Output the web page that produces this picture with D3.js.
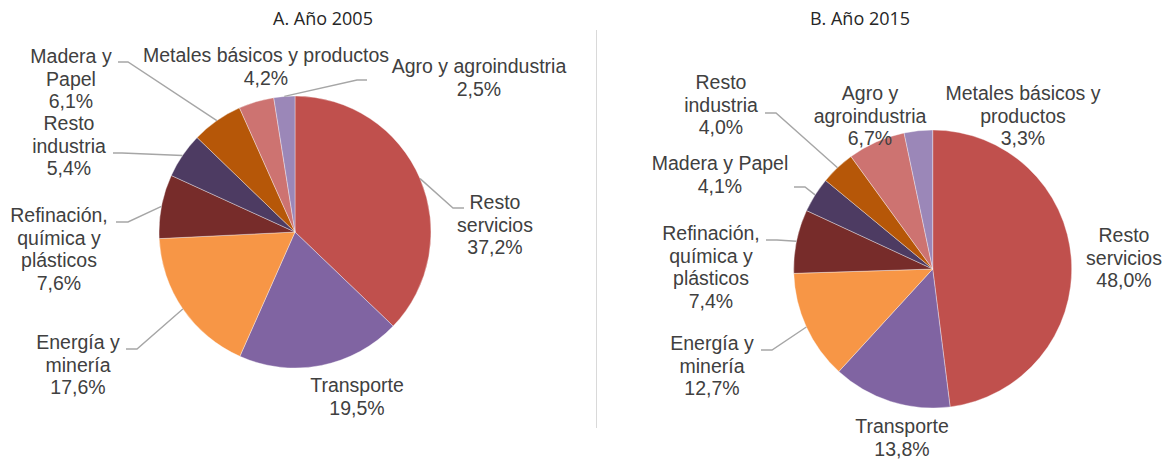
<!DOCTYPE html>
<html>
<head>
<meta charset="utf-8">
<script src="https://cdn.jsdelivr.net/npm/d3@7"></script>
<style>
  html, body { margin: 0; padding: 0; background: #fff; }
  svg { display: block; }
</style>
</head>
<body>
<svg id="chart" width="1172" height="462"></svg>
<script>
// ---------- DATA ----------
const titles = ["A. Año 2005", "B. Año 2015"];

const categories2005 = ["Resto servicios", "Transporte", "Energía y minería", "Refinación, química y plásticos",
  "Resto industria", "Madera y Papel", "Metales básicos y productos", "Agro y agroindustria"];
const values2005 = [37.2, 19.5, 17.6, 7.6, 5.4, 6.1, 4.2, 2.5];

const categories2015 = ["Resto servicios", "Transporte", "Energía y minería", "Refinación, química y plásticos",
  "Madera y Papel", "Resto industria", "Agro y agroindustria", "Metales básicos y productos"];
const values2015 = [48.0, 13.8, 12.7, 7.4, 4.1, 4.0, 6.7, 3.3];

// ---------- STYLE / LAYOUT ----------
const sliceColors = ["#C0504D", "#8064A2", "#F79646", "#772C2A", "#4D3B62", "#B65708", "#CD7371", "#9B87B8"];

// label line breaks (text wrapping of the category names)
const wrap2005 = [["Resto", "servicios"], ["Transporte"], ["Energía y", "minería"], ["Refinación,", "química y", "plásticos"],
  ["Resto", "industria"], ["Madera y", "Papel"], ["Metales básicos y productos"], ["Agro y agroindustria"]];
const wrap2015 = [["Resto", "servicios"], ["Transporte"], ["Energía y", "minería"], ["Refinación,", "química y", "plásticos"],
  ["Madera y Papel"], ["Resto", "industria"], ["Agro y", "agroindustria"], ["Metales básicos y", "productos"]];

// label placement: centre x, first baseline y, optional leader [xStart, xBend, y]
const layout2005 = [
  { x: 495, y: 209, leader: [464, 453, 208] },
  { x: 357, y: 392 },
  { x: 78,  y: 349, leader: [126, 137, 349] },
  { x: 59,  y: 222, leader: [116, 128, 222] },
  { x: 69,  y: 130, leader: [113, 122, 153] },
  { x: 71,  y: 63,  leader: [118, 128, 62] },
  { x: 266, y: 62 },
  { x: 479, y: 73,  leader: [367, 357, 80] }
];
const layout2015 = [
  { x: 1124, y: 242 },
  { x: 902,  y: 433 },
  { x: 712,  y: 350, leader: [761, 772, 350] },
  { x: 711,  y: 240, leader: [766, 777, 240] },
  { x: 720,  y: 170, leader: [794, 805, 187] },
  { x: 721,  y: 89,  leader: [765, 776, 113] },
  { x: 870,  y: 100 },
  { x: 1023, y: 100 }
];

const charts = [
  { title: titles[0], titleX: 323, cx: 295, cy: 232, r: 136, cats: categories2005, vals: values2005, wrap: wrap2005, layout: layout2005 },
  { title: titles[1], titleX: 860, cx: 932.7, cy: 269, r: 139, cats: categories2015, vals: values2015, wrap: wrap2015, layout: layout2015 }
];

const LABEL_FONT = "Liberation Sans, Arial, sans-serif";
const LABEL_SIZE = 19.5;
const LINE_H = 22.6;
const fmt = v => d3.format(".1f")(v).replace(".", ",") + "%";

const svg = d3.select("#chart");

// divider
svg.append("line")
  .attr("x1", 596.5).attr("x2", 596.5).attr("y1", 30).attr("y2", 428)
  .attr("stroke", "#D9D9D9").attr("stroke-width", 1);

charts.forEach(ch => {
  const data = ch.cats.map((c, i) => ({ cat: c, v: ch.vals[i], i }));
  const pie = d3.pie().sort(null).value(d => d.v);
  const arcs = pie(data);
  const arc = d3.arc().innerRadius(0).outerRadius(ch.r);
  const edge = d3.arc().innerRadius(ch.r).outerRadius(ch.r);

  // title
  svg.append("text")
    .attr("x", ch.titleX).attr("y", 25)
    .attr("text-anchor", "middle")
    .attr("font-family", "Open Sans, Noto Sans, sans-serif")
    .attr("font-size", 18)
    .attr("fill", "#262626")
    .text(ch.title);

  const g = svg.append("g").attr("transform", `translate(${ch.cx},${ch.cy})`);
  g.selectAll("path.slice").data(arcs).enter().append("path")
    .attr("class", "slice")
    .attr("d", arc)
    .attr("fill", d => sliceColors[d.index])
    .attr("stroke", "#ffffff")
    .attr("stroke-opacity", 0.6)
    .attr("stroke-width", 0.6);

  // leaders
  arcs.forEach(a => {
    const L = ch.layout[a.index];
    if (!L.leader) return;
    const [ex, ey] = edge.centroid(a);
    const [x0, x1, y] = L.leader;
    svg.append("path")
      .attr("d", d3.line()([[x0, y], [x1, y], [ch.cx + ex, ch.cy + ey]]))
      .attr("fill", "none")
      .attr("stroke", "#A6A6A6")
      .attr("stroke-width", 1.4);
  });

  // labels
  arcs.forEach(a => {
    const L = ch.layout[a.index];
    const lines = ch.wrap[a.index].concat([fmt(a.data.v)]);
    const t = svg.append("text")
      .attr("text-anchor", "middle")
      .attr("font-family", LABEL_FONT)
      .attr("font-size", LABEL_SIZE)
      .attr("fill", "#404040");
    lines.forEach((s, k) => {
      t.append("tspan").attr("x", L.x).attr("y", L.y + k * LINE_H).text(s);
    });
  });
});
</script>
</body>
</html>
